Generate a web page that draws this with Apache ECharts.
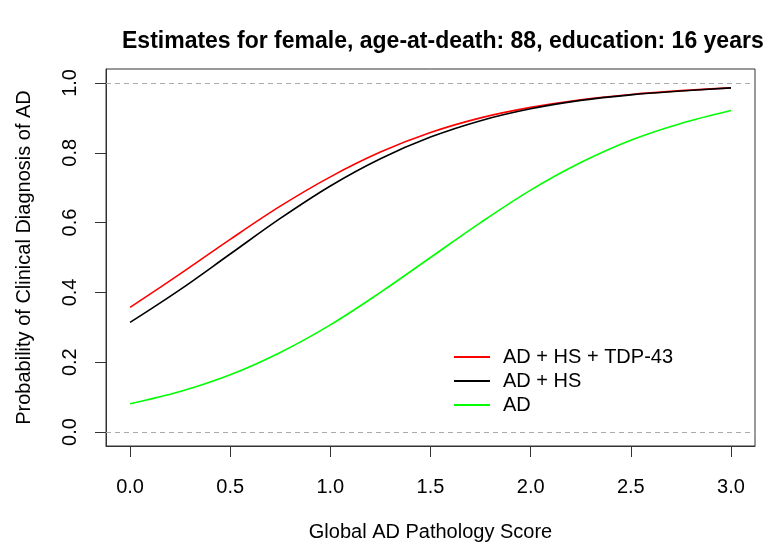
<!DOCTYPE html>
<html>
<head>
<meta charset="utf-8">
<script src="https://cdn.jsdelivr.net/npm/echarts@6/dist/echarts.min.js"></script>
<style>
html,body{margin:0;padding:0;background:#fff;}
#chart{width:768px;height:547px;}
</style>
</head>
<body>
<div id="chart"></div>
<script>
var titleText = 'Estimates for female, age-at-death: 88, education: 16 years';
var xName = 'Global AD Pathology Score';
var yName = 'Probability of Clinical Diagnosis of AD';
var xTicks = [0, 0.5, 1, 1.5, 2, 2.5, 3];
var yTicks = [0, 0.2, 0.4, 0.6, 0.8, 1];
var scores = [0, 0.25, 0.5, 0.75, 1, 1.25, 1.5, 1.75, 2, 2.25, 2.5, 2.75, 3];
var seriesNames = ['AD + HS + TDP-43', 'AD + HS', 'AD'];
var adHsTdp = [0.357, 0.453, 0.552, 0.647, 0.731, 0.802, 0.858, 0.900, 0.930, 0.952, 0.967, 0.978, 0.986];
var adHs    = [0.314, 0.408, 0.510, 0.612, 0.705, 0.783, 0.845, 0.892, 0.926, 0.950, 0.966, 0.977, 0.986];
var adOnly  = [0.081, 0.116, 0.164, 0.228, 0.307, 0.400, 0.500, 0.600, 0.693, 0.772, 0.836, 0.884, 0.921];
var refLines = [0, 1];

var FONT = '"Liberation Sans", Arial, Helvetica, sans-serif';
function pairs(ys){ return scores.map(function(x,i){ return [x, ys[i]]; }); }

var chart = echarts.init(document.getElementById('chart'), null, {renderer:'canvas'});
var colors = ['#ff0000', '#000000', '#00ff00'];
var vals = [adHsTdp, adHs, adOnly];
var series = seriesNames.map(function(n, i){
  return {
    name: n, type: 'line', data: pairs(vals[i]), smooth: 0.35,
    symbol: 'none', showSymbol: false,
    lineStyle: {color: colors[i], width: 1.6}, itemStyle: {color: colors[i]},
    z: 3 + i, silent: true
  };
});
series[0].markLine = {
  silent: true, symbol: ['none','none'], label: {show:false},
  lineStyle: {color: '#aaaaaa', type: [5,4], width: 1},
  data: refLines.map(function(v){ return {yAxis: v}; })
};

chart.setOption({
  animation: false,
  backgroundColor: '#fff',
  title: {
    text: titleText, left: 117, top: 25,
    textStyle: {fontFamily: FONT, fontSize: 23, fontWeight: 'bold', color: '#000'}
  },
  legend: {
    orient: 'vertical', left: 449, top: 342,
    icon: 'rect', itemWidth: 36, itemHeight: 2, itemGap: 4,
    data: seriesNames,
    textStyle: {fontFamily: FONT, fontSize: 20, lineHeight: 20, color: '#000', padding: [0,0,0,8]}
  },
  grid: {
    left: 106, right: 13, top: 69, bottom: 99,
    show: true, borderColor: '#333', borderWidth: 1, backgroundColor: 'transparent'
  },
  xAxis: {
    type: 'value', min: -0.12, max: 3.12,
    name: xName, nameLocation: 'middle', nameGap: 76,
    nameTextStyle: {fontFamily: FONT, fontSize: 20, color: '#000'},
    axisLine: {show: true, onZero: false, lineStyle: {color: '#333', width: 1}},
    axisTick: {show: true, customValues: xTicks, length: 11, lineStyle: {color: '#333'}},
    axisLabel: {customValues: xTicks, fontFamily: FONT, fontSize: 20, color: '#000', margin: 31,
      formatter: function(v){ return v.toFixed(1); }},
    splitLine: {show: false}
  },
  yAxis: {
    type: 'value', min: -0.04, max: 1.04,
    name: yName, nameLocation: 'middle', nameGap: 72,
    nameTextStyle: {fontFamily: FONT, fontSize: 20, color: '#000'},
    axisLine: {show: true, onZero: false, lineStyle: {color: '#333', width: 1}},
    axisTick: {show: true, customValues: yTicks, length: 11, lineStyle: {color: '#333'}},
    axisLabel: {customValues: yTicks, fontFamily: FONT, fontSize: 20, color: '#000', margin: 26, rotate: 90,
      formatter: function(v){ return v.toFixed(1); }},
    splitLine: {show: false}
  },
  series: series
});
</script>
</body>
</html>
